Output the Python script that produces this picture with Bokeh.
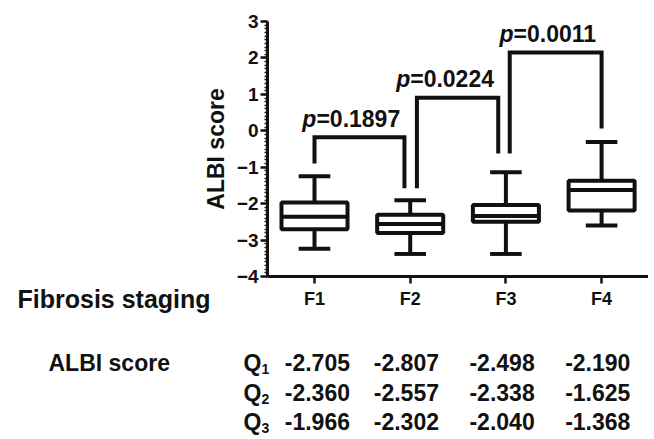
from bokeh.plotting import figure
from bokeh.models import Range1d, SingleIntervalTicker, FixedTicker, ColumnDataSource
from bokeh.core.properties import value
from bokeh.embed import file_html
from bokeh.resources import INLINE

# ---------------- data ----------------
stages = ["F1", "F2", "F3", "F4"]
q1 = [-2.705, -2.807, -2.498, -2.190]
q2 = [-2.360, -2.557, -2.338, -1.625]
q3 = [-1.966, -2.302, -2.040, -1.368]
whisker_lo = [-3.24, -3.38, -3.38, -2.60]
whisker_hi = [-1.25, -1.91, -1.14, -0.31]

pairs = [(1, 2), (2, 3), (3, 4)]
p_values = ["0.1897", "0.0224", "0.0011"]
bracket_y = [-0.18, 0.91, 2.15]
bracket_left_bottom = [-0.90, -1.58, -0.62]
bracket_right_bottom = [-1.58, -0.62, 0.06]

y_axis_limits = (-4, 3)
row_labels = ["1", "2", "3"]

FONT = "Liberation Sans"
BLACK = "#111111"

pos = list(range(1, len(stages) + 1))

W, H = 648, 437
# map picture pixels to data space (frame covers the whole figure)
PX_PER_X = 95.7
PX_PER_Y = 36.43
X0_PX, Y0_PX = 314.0, 21.0  # pixel of x=1 and of y=3


def xd(px):
    return 1 + (px - X0_PX) / PX_PER_X


def yd(py):
    return 3 - (py - Y0_PX) / PX_PER_Y


p = figure(width=W, height=H, output_backend="svg", toolbar_location=None,
           x_range=Range1d(xd(0), xd(W)), y_range=Range1d(yd(H), yd(0)),
           min_border=0)
p.outline_line_color = None
p.xgrid.grid_line_color = None
p.ygrid.grid_line_color = None
p.background_fill_color = "white"
p.border_fill_color = "white"

x_lo, x_hi = xd(267), xd(648)

# ---- boxes ----
bw = 0.69
cw = 0.33
lw = 4
p.segment(x0=pos, y0=q3, x1=pos, y1=whisker_hi, line_color=BLACK, line_width=lw)
p.segment(x0=pos, y0=q1, x1=pos, y1=whisker_lo, line_color=BLACK, line_width=lw)
p.segment(x0=[x - cw / 2 for x in pos], y0=whisker_hi, x1=[x + cw / 2 for x in pos], y1=whisker_hi,
          line_color=BLACK, line_width=lw)
p.segment(x0=[x - cw / 2 for x in pos], y0=whisker_lo, x1=[x + cw / 2 for x in pos], y1=whisker_lo,
          line_color=BLACK, line_width=lw)
p.quad(left=[x - bw / 2 for x in pos], right=[x + bw / 2 for x in pos], bottom=q1, top=q3,
       fill_color="white", line_color=BLACK, line_width=lw)
p.segment(x0=[x - bw / 2 for x in pos], y0=q2, x1=[x + bw / 2 for x in pos], y1=q2,
          line_color=BLACK, line_width=lw)

# ---- significance brackets ----
left_off = [0.0, 0.07, 0.04]
right_off = [-0.06, -0.08, 0.0]
label_shift = [0.02, -0.07, 0.04]
anchors, label_y = [], []
for (a, b), by, lb, rb, lo, ro, ls in zip(pairs, bracket_y, bracket_left_bottom,
                                          bracket_right_bottom, left_off, right_off, label_shift):
    xl = a + lo
    xr = b + ro
    p.line(x=[xl, xl, xr, xr], y=[lb, by, by, rb], line_color=BLACK, line_width=lw,
           line_join="miter")
    anchors.append(xl + ls)
    label_y.append(by + 0.5)

p.text(x=anchors, y=label_y, text=["p"] * len(anchors), text_font=value(FONT),
       text_font_style="bold italic", text_font_size="23px", text_align="right",
       text_baseline="alphabetic", text_color=BLACK)
p.text(x=anchors, y=label_y, text=["=" + v for v in p_values], text_font=value(FONT),
       text_font_style="bold", text_font_size="23px", text_align="left",
       text_baseline="alphabetic", text_color=BLACK)

# ---- axes ----
yax = p.yaxis[0]
yax.fixed_location = x_lo
yax.bounds = y_axis_limits
yax.ticker = SingleIntervalTicker(interval=1, num_minor_ticks=10)
yax.axis_label = "ALBI score"
yax.axis_label_text_font = FONT
yax.axis_label_text_font_style = "bold"
yax.axis_label_text_font_size = "23px"
yax.axis_label_text_color = BLACK
yax.axis_label_standoff = 5
yax.major_label_text_font = FONT
yax.major_label_text_font_style = "bold"
yax.major_label_text_font_size = "19px"
yax.major_label_text_color = BLACK
yax.major_label_standoff = 2
yax.axis_line_width = 3
yax.axis_line_color = BLACK
yax.major_tick_line_width = 2.5
yax.major_tick_line_color = BLACK
yax.major_tick_out = 7
yax.major_tick_in = 0
yax.minor_tick_line_width = 1.5
yax.minor_tick_line_color = BLACK
yax.minor_tick_out = 3
yax.minor_tick_in = 0

xax = p.xaxis[0]
xax.fixed_location = y_axis_limits[0]
xax.bounds = (x_lo, x_hi)
xax.ticker = FixedTicker(ticks=pos)
xax.major_label_overrides = {x: s for x, s in zip(pos, stages)}
xax.major_label_text_font = FONT
xax.major_label_text_font_style = "bold"
xax.major_label_text_font_size = "18px"
xax.major_label_text_color = BLACK
xax.major_label_standoff = 5
xax.axis_line_width = 3
xax.axis_line_color = BLACK
xax.major_tick_line_width = 2.5
xax.major_tick_line_color = BLACK
xax.major_tick_out = 7
xax.major_tick_in = 0
xax.minor_tick_line_color = None

# ---- table below the chart ----
p.text(x=[xd(17)], y=[yd(298)], text=["Fibrosis staging"], text_font=value(FONT),
       text_font_style="bold", text_font_size="25px", text_align="left",
       text_baseline="middle", text_color=BLACK)
p.text(x=[xd(48)], y=[yd(362)], text=["ALBI score"], text_font=value(FONT),
       text_font_style="bold", text_font_size="23px", text_align="left",
       text_baseline="middle", text_color=BLACK)

row_px = [362, 392, 421]
row_y = [yd(r) for r in row_px]
p.text(x=[xd(243)] * 3, y=row_y, text=["Q"] * 3, text_font=value(FONT),
       text_font_style="bold", text_font_size="23px", text_align="left",
       text_baseline="middle", text_color=BLACK)
p.text(x=[xd(261)] * 3, y=[yd(r + 6) for r in row_px], text=row_labels, text_font=value(FONT),
       text_font_style="bold", text_font_size="14px", text_align="left",
       text_baseline="middle", text_color=BLACK)

tx, ty, tt = [], [], []
for ry, vals in zip(row_y, [q1, q2, q3]):
    for x, v in zip(pos, vals):
        tx.append(x + (0.03 if x == 1 else -0.04))
        ty.append(ry)
        tt.append(f"{v:.3f}")
src = ColumnDataSource(dict(x=tx, y=ty, t=tt))
p.text(x="x", y="y", text="t", source=src, text_font=value(FONT),
       text_font_style="bold", text_font_size="23px", text_align="center",
       text_baseline="middle", text_color=BLACK)

open("out.html", "w").write(file_html(p, INLINE))
